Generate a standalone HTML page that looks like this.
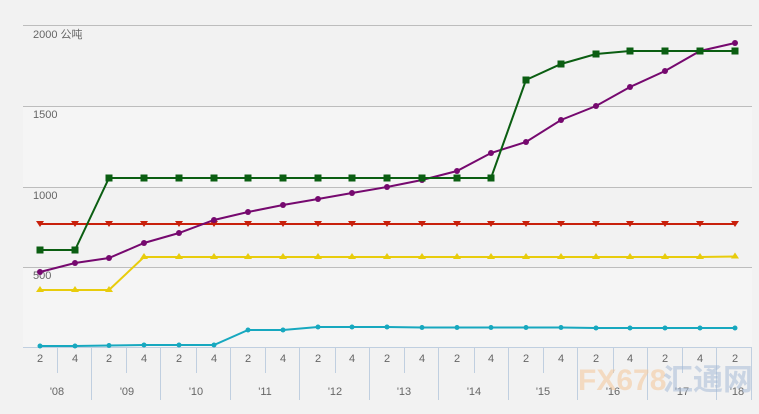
<!DOCTYPE html>
<html><head><meta charset="utf-8"><style>
body{margin:0;background:#f2f2f2;}
svg{display:block;font-family:"Liberation Sans","Noto Sans CJK SC",sans-serif;}
</style></head><body>
<svg width="759" height="414" viewBox="0 0 759 414" xmlns="http://www.w3.org/2000/svg">
<rect width="759" height="414" fill="#f2f2f2"/>
<rect x="23" y="106" width="729" height="81" fill="#f5f5f5"/>
<rect x="23" y="267" width="729" height="80" fill="#f5f5f5"/>
<g stroke="#bdbdbd" stroke-width="1">
<line x1="23" y1="25.5" x2="752" y2="25.5"/>
<line x1="23" y1="106.5" x2="752" y2="106.5"/>
<line x1="23" y1="187.5" x2="752" y2="187.5"/>
<line x1="23" y1="267.5" x2="752" y2="267.5"/>
</g>
<line x1="23" y1="347.5" x2="752" y2="347.5" stroke="#c0cfe0"/>
<g fill="#666" font-size="11">
<text x="33" y="38">2000 公吨</text>
<text x="33" y="118">1500</text>
<text x="33" y="199">1000</text>
<text x="33" y="279">500</text>
</g>
<g stroke="#c0cfe0">
<line x1="57.5" y1="347" x2="57.5" y2="373"/><line x1="126.5" y1="347" x2="126.5" y2="373"/><line x1="196.5" y1="347" x2="196.5" y2="373"/><line x1="265.5" y1="347" x2="265.5" y2="373"/><line x1="335.5" y1="347" x2="335.5" y2="373"/><line x1="404.5" y1="347" x2="404.5" y2="373"/><line x1="474.5" y1="347" x2="474.5" y2="373"/><line x1="543.5" y1="347" x2="543.5" y2="373"/><line x1="613.5" y1="347" x2="613.5" y2="373"/><line x1="682.5" y1="347" x2="682.5" y2="373"/>
<line x1="91.5" y1="347" x2="91.5" y2="400"/><line x1="160.5" y1="347" x2="160.5" y2="400"/><line x1="230.5" y1="347" x2="230.5" y2="400"/><line x1="299.5" y1="347" x2="299.5" y2="400"/><line x1="369.5" y1="347" x2="369.5" y2="400"/><line x1="438.5" y1="347" x2="438.5" y2="400"/><line x1="508.5" y1="347" x2="508.5" y2="400"/><line x1="577.5" y1="347" x2="577.5" y2="400"/><line x1="647.5" y1="347" x2="647.5" y2="400"/><line x1="716.5" y1="347" x2="716.5" y2="400"/><line x1="751.5" y1="347" x2="751.5" y2="400"/>
</g>
<g fill="#666" font-size="11" text-anchor="middle">
<text x="40" y="362">2</text><text x="75" y="362">4</text><text x="109" y="362">2</text><text x="144" y="362">4</text><text x="179" y="362">2</text><text x="214" y="362">4</text><text x="248" y="362">2</text><text x="283" y="362">4</text><text x="318" y="362">2</text><text x="352" y="362">4</text><text x="387" y="362">2</text><text x="422" y="362">4</text><text x="457" y="362">2</text><text x="491" y="362">4</text><text x="526" y="362">2</text><text x="561" y="362">4</text><text x="596" y="362">2</text><text x="630" y="362">4</text><text x="665" y="362">2</text><text x="700" y="362">4</text><text x="735" y="362">2</text>
<text x="57" y="395">'08</text><text x="127" y="395">'09</text><text x="196" y="395">'10</text><text x="265" y="395">'11</text><text x="335" y="395">'12</text><text x="404" y="395">'13</text><text x="474" y="395">'14</text><text x="543" y="395">'15</text><text x="613" y="395">'16</text><text x="682" y="395">'17</text><text x="737" y="395">'18</text>
</g>
<text x="578" y="390" font-size="30" font-weight="bold" fill="#f5c89a" opacity="0.55">FX678</text>
<text x="663" y="390" font-size="30" font-weight="bold" fill="#a8bcd8" opacity="0.55">汇通网</text>
<!-- cyan -->
<polyline fill="none" stroke="#17a8bf" stroke-width="2" points="40,346 75,346 109,345.5 144,345 179,345 214,345 248,330 283,330 318,327 352,327 387,327 422,327.5 457,327.5 491,327.5 526,327.5 561,327.5 596,328 630,328 665,328 700,328 735,328"/>
<g fill="#17a8bf"><circle cx="40" cy="346" r="2.5"/><circle cx="75" cy="346" r="2.5"/><circle cx="109" cy="345.5" r="2.5"/><circle cx="144" cy="345" r="2.5"/><circle cx="179" cy="345" r="2.5"/><circle cx="214" cy="345" r="2.5"/><circle cx="248" cy="330" r="2.5"/><circle cx="283" cy="330" r="2.5"/><circle cx="318" cy="327" r="2.5"/><circle cx="352" cy="327" r="2.5"/><circle cx="387" cy="327" r="2.5"/><circle cx="422" cy="327.5" r="2.5"/><circle cx="457" cy="327.5" r="2.5"/><circle cx="491" cy="327.5" r="2.5"/><circle cx="526" cy="327.5" r="2.5"/><circle cx="561" cy="327.5" r="2.5"/><circle cx="596" cy="328" r="2.5"/><circle cx="630" cy="328" r="2.5"/><circle cx="665" cy="328" r="2.5"/><circle cx="700" cy="328" r="2.5"/><circle cx="735" cy="328" r="2.5"/></g>
<!-- yellow -->
<polyline fill="none" stroke="#e8cc0c" stroke-width="2" points="40,290 75,290 109,290 144,257 179,257 214,257 248,257 283,257 318,257 352,257 387,257 422,257 457,257 491,257 526,257 561,257 596,257 630,257 665,257 700,257 735,256.5"/>
<g fill="#e8cc0c"><path d="M40,286l4,6h-8z"/><path d="M75,286l4,6h-8z"/><path d="M109,286l4,6h-8z"/><path d="M144,253l4,6h-8z"/><path d="M179,253l4,6h-8z"/><path d="M214,253l4,6h-8z"/><path d="M248,253l4,6h-8z"/><path d="M283,253l4,6h-8z"/><path d="M318,253l4,6h-8z"/><path d="M352,253l4,6h-8z"/><path d="M387,253l4,6h-8z"/><path d="M422,253l4,6h-8z"/><path d="M457,253l4,6h-8z"/><path d="M491,253l4,6h-8z"/><path d="M526,253l4,6h-8z"/><path d="M561,253l4,6h-8z"/><path d="M596,253l4,6h-8z"/><path d="M630,253l4,6h-8z"/><path d="M665,253l4,6h-8z"/><path d="M700,253l4,6h-8z"/><path d="M735,252.5l4,6h-8z"/></g>
<!-- red -->
<polyline fill="none" stroke="#c8200c" stroke-width="2" points="40,224 735,224"/>
<g fill="#c8200c"><path d="M36,221h8l-4,6z"/><path d="M71,221h8l-4,6z"/><path d="M105,221h8l-4,6z"/><path d="M140,221h8l-4,6z"/><path d="M175,221h8l-4,6z"/><path d="M210,221h8l-4,6z"/><path d="M244,221h8l-4,6z"/><path d="M279,221h8l-4,6z"/><path d="M314,221h8l-4,6z"/><path d="M348,221h8l-4,6z"/><path d="M383,221h8l-4,6z"/><path d="M418,221h8l-4,6z"/><path d="M453,221h8l-4,6z"/><path d="M487,221h8l-4,6z"/><path d="M522,221h8l-4,6z"/><path d="M557,221h8l-4,6z"/><path d="M592,221h8l-4,6z"/><path d="M626,221h8l-4,6z"/><path d="M661,221h8l-4,6z"/><path d="M696,221h8l-4,6z"/><path d="M731,221h8l-4,6z"/></g>
<!-- purple -->
<polyline fill="none" stroke="#76096f" stroke-width="2" points="40,272 75,263 109,258 144,243 179,233 214,220 248,212 283,205 318,199 352,193 387,187 422,180 457,171 491,153 526,142 561,120 596,106 630,87 665,71 700,51 735,43"/>
<g fill="#76096f"><circle cx="40" cy="272" r="3"/><circle cx="75" cy="263" r="3"/><circle cx="109" cy="258" r="3"/><circle cx="144" cy="243" r="3"/><circle cx="179" cy="233" r="3"/><circle cx="214" cy="220" r="3"/><circle cx="248" cy="212" r="3"/><circle cx="283" cy="205" r="3"/><circle cx="318" cy="199" r="3"/><circle cx="352" cy="193" r="3"/><circle cx="387" cy="187" r="3"/><circle cx="422" cy="180" r="3"/><circle cx="457" cy="171" r="3"/><circle cx="491" cy="153" r="3"/><circle cx="526" cy="142" r="3"/><circle cx="561" cy="120" r="3"/><circle cx="596" cy="106" r="3"/><circle cx="630" cy="87" r="3"/><circle cx="665" cy="71" r="3"/><circle cx="700" cy="51" r="3"/><circle cx="735" cy="43" r="3"/></g>
<!-- green -->
<polyline fill="none" stroke="#0b5e12" stroke-width="2" points="40,250 75,250 109,178 144,178 179,178 214,178 248,178 283,178 318,178 352,178 387,178 422,178 457,178 491,178 526,80 561,64 596,54 630,51 665,51 700,51 735,51"/>
<g fill="#0b5e12"><rect x="36.5" y="246.5" width="7" height="7"/><rect x="71.5" y="246.5" width="7" height="7"/><rect x="105.5" y="174.5" width="7" height="7"/><rect x="140.5" y="174.5" width="7" height="7"/><rect x="175.5" y="174.5" width="7" height="7"/><rect x="210.5" y="174.5" width="7" height="7"/><rect x="244.5" y="174.5" width="7" height="7"/><rect x="279.5" y="174.5" width="7" height="7"/><rect x="314.5" y="174.5" width="7" height="7"/><rect x="348.5" y="174.5" width="7" height="7"/><rect x="383.5" y="174.5" width="7" height="7"/><rect x="418.5" y="174.5" width="7" height="7"/><rect x="453.5" y="174.5" width="7" height="7"/><rect x="487.5" y="174.5" width="7" height="7"/><rect x="522.5" y="76.5" width="7" height="7"/><rect x="557.5" y="60.5" width="7" height="7"/><rect x="592.5" y="50.5" width="7" height="7"/><rect x="626.5" y="47.5" width="7" height="7"/><rect x="661.5" y="47.5" width="7" height="7"/><rect x="696.5" y="47.5" width="7" height="7"/><rect x="731.5" y="47.5" width="7" height="7"/></g>
</svg>
</body></html>
